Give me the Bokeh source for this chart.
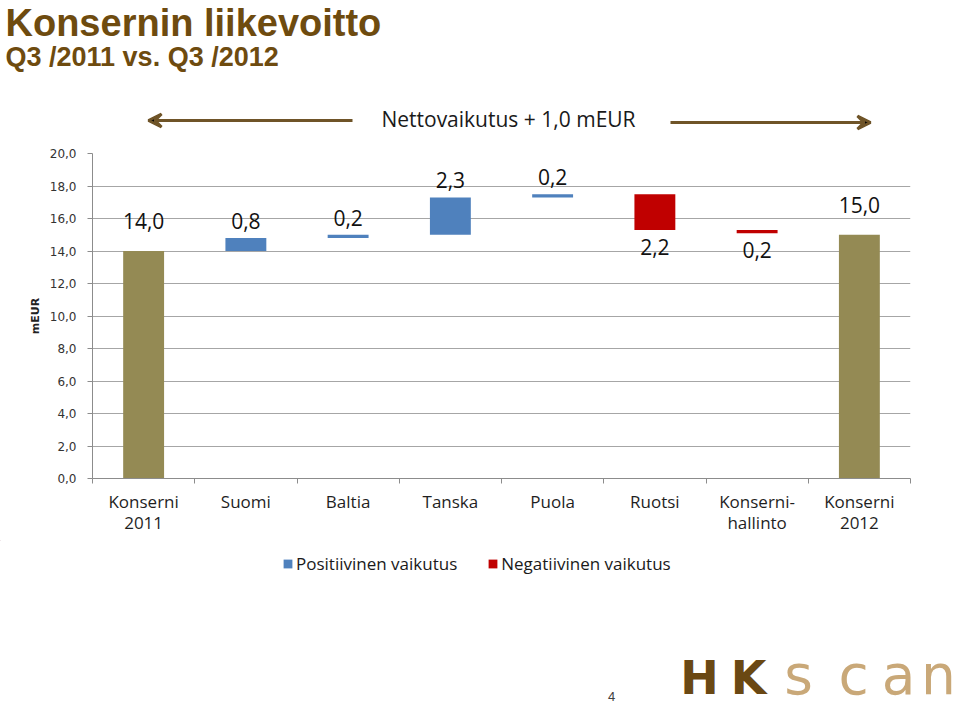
from bokeh.plotting import figure
from bokeh.layouts import column
from bokeh.models import (ColumnDataSource, FixedTicker, Range1d, Label, Arrow, VeeHead,
                          Legend, LegendItem, Plot)
from bokeh.core.properties import value
from bokeh.embed import file_html
from bokeh.resources import INLINE

# ---------------- data ----------------
categories = ["Konserni\n2011", "Suomi", "Baltia", "Tanska", "Puola", "Ruotsi",
              "Konserni-\nhallinto", "Konserni\n2012"]
start_value = 14.0
deltas = [0.8, 0.2, 2.3, 0.2, -2.2, -0.2]
end_value = 15.0
y_ticks = [0.0, 2.0, 4.0, 6.0, 8.0, 10.0, 12.0, 14.0, 16.0, 18.0, 20.0]
title_text = "Konsernin liikevoitto"
subtitle_text = "Q3 /2011 vs. Q3 /2012"
net_text = "Nettovaikutus + 1,0 mEUR"
legend_labels = ["Positiivinen vaikutus", "Negatiivinen vaikutus"]
y_axis_label = "mEUR"
page_number = "4"
logo_dark = "HK"
logo_light = "scan"

# ---------------- styles ----------------
C_TOTAL = "#948A54"
C_POS = "#4F81BD"
C_NEG = "#C00000"
C_BROWN = "#6E4B0F"
C_ARROW = "#6F5428"
C_LOGO_DARK = "#6A4813"
C_LOGO_LIGHT = "#C9A878"
W = 960
H_HEAD, H_MAIN = 140, 400
H_FOOT = 717 - H_HEAD - H_MAIN
HAS_FRAME_ALIGN = "frame_align" in Plot.properties()


def fmt(v):
    return f"{abs(v):.1f}".replace(".", ",")


def deco_figure(height, top):
    # a plain canvas whose data units are page pixels (y grows downwards)
    f = figure(width=W, height=height, x_range=Range1d(0, W), y_range=Range1d(top + height, top),
               x_axis_type=None, y_axis_type=None, output_backend="svg", toolbar_location=None,
               min_border=0)
    f.outline_line_color = None
    f.xgrid.grid_line_color = None
    f.ygrid.grid_line_color = None
    if HAS_FRAME_ALIGN:
        f.frame_align = False
    return f


# ---------------- waterfall geometry ----------------
xs = [i + 0.5 for i in range(len(categories))]
bottoms, tops, kinds, vals = [0.0], [start_value], ["total"], [start_value]
run = start_value
for d in deltas:
    new = run + d
    bottoms.append(min(run, new)); tops.append(max(run, new))
    kinds.append("pos" if d >= 0 else "neg"); vals.append(d)
    run = new
bottoms.append(0.0); tops.append(end_value); kinds.append("total"); vals.append(end_value)


def subset(kind):
    idx = [i for i, k in enumerate(kinds) if k == kind]
    return ColumnDataSource(dict(x=[xs[i] for i in idx], bottom=[bottoms[i] for i in idx],
                                 top=[tops[i] for i in idx]))


# ---------------- header ----------------
head = deco_figure(H_HEAD, 0)
head.add_layout(Label(x=5, y=22, text=title_text, text_font="Liberation Sans",
                      text_font_style="bold", text_font_size="38px", text_color=C_BROWN,
                      text_baseline="middle"))
head.add_layout(Label(x=5, y=56, text=subtitle_text, text_font="Liberation Sans",
                      text_font_style="bold", text_font_size="27px", text_color=C_BROWN,
                      text_baseline="middle"))
head.add_layout(Label(x=508, y=118, text=net_text, text_font="Open Sans",
                      text_font_size="21px", text_color="#1A1A1A", text_align="center",
                      text_baseline="middle"))
head.add_layout(Arrow(x_start=352, y_start=120, x_end=148, y_end=120,
                      line_color=C_ARROW, line_width=3,
                      end=VeeHead(size=13, line_color=C_ARROW, line_width=3)))
head.add_layout(Arrow(x_start=670, y_start=122, x_end=870, y_end=122,
                      line_color=C_ARROW, line_width=3,
                      end=VeeHead(size=13, line_color=C_ARROW, line_width=3)))

# ---------------- main chart ----------------
p = figure(width=W, height=H_MAIN, x_range=Range1d(0, len(categories)), y_range=Range1d(0, 20),
           output_backend="svg", toolbar_location=None,
           min_border_left=92, min_border_right=50, min_border_top=13, min_border_bottom=62)
p.outline_line_color = None
p.xgrid.grid_line_color = None
p.ygrid.grid_line_color = "#A6A6A6"
if HAS_FRAME_ALIGN:
    p.frame_align = False

p.yaxis.ticker = FixedTicker(ticks=y_ticks)
p.yaxis.major_label_overrides = {t: fmt(t) for t in y_ticks}
p.yaxis.axis_line_color = "#8C8C8C"
p.yaxis.major_tick_line_color = "#8C8C8C"
p.yaxis.major_tick_out = 5
p.yaxis.major_tick_in = 0
p.yaxis.minor_tick_line_color = None
p.yaxis.major_label_text_font = "DejaVu Sans"
p.yaxis.major_label_text_font_size = "12px"
p.yaxis.major_label_text_color = "#333333"
p.yaxis.major_label_standoff = 11
p.yaxis.axis_label = y_axis_label
p.yaxis.axis_label_text_font = "DejaVu Sans"
p.yaxis.axis_label_text_font_style = "bold"
p.yaxis.axis_label_text_font_size = "11px"
p.yaxis.axis_label_text_color = "#222222"
p.yaxis.axis_label_standoff = 5

p.xaxis.ticker = FixedTicker(ticks=xs, minor_ticks=list(range(len(categories) + 1)))
p.xaxis.major_label_overrides = {x: c for x, c in zip(xs, categories)}
p.xaxis.axis_line_color = "#8C8C8C"
p.xaxis.major_tick_line_color = None
p.xaxis.major_tick_out = 0
p.xaxis.major_tick_in = 0
p.xaxis.minor_tick_line_color = "#8C8C8C"
p.xaxis.minor_tick_out = 5
p.xaxis.minor_tick_in = 0
p.xaxis.major_label_standoff = 6
p.xaxis.major_label_text_font = "Open Sans"
p.xaxis.major_label_text_font_size = "17px"
p.xaxis.major_label_text_line_height = 0.95
p.xaxis.major_label_text_color = "#1F1F1F"

p.vbar(x="x", bottom="bottom", top="top", width=0.4, source=subset("total"),
       fill_color=C_TOTAL, line_color=None)
p.vbar(x="x", bottom="bottom", top="top", width=0.4, source=subset("pos"),
       fill_color=C_POS, line_color=None)
p.vbar(x="x", bottom="bottom", top="top", width=0.4, source=subset("neg"),
       fill_color=C_NEG, line_color=None)

up_x, up_y, up_t, dn_x, dn_y, dn_t = [], [], [], [], [], []
for x, b, t, k, v in zip(xs, bottoms, tops, kinds, vals):
    if k == "neg":
        dn_x.append(x); dn_y.append(b - 0.55); dn_t.append(fmt(v))
    else:
        gap = 1.35 if k == "total" else 0.55
        up_x.append(x); up_y.append(t + gap); up_t.append(fmt(v))
p.text(x=up_x, y=up_y, text=up_t, text_align="center", text_baseline="bottom",
       text_font=value("Open Sans"), text_font_size="21px", text_color="#111111")
p.text(x=dn_x, y=dn_y, text=dn_t, text_align="center", text_baseline="top",
       text_font=value("Open Sans"), text_font_size="21px", text_color="#111111")

# ---------------- footer: legend, page number, logo ----------------
foot = deco_figure(H_FOOT, H_HEAD + H_MAIN)
# legend swatches: renderers placed far outside the visible range, used only by the legend
lg_pos = foot.vbar(x=[-5000], top=[-5000], bottom=[-5010], width=1, fill_color=C_POS, line_color=None)
lg_neg = foot.vbar(x=[-5000], top=[-5000], bottom=[-5010], width=1, fill_color=C_NEG, line_color=None)
legend = Legend(items=[LegendItem(label=legend_labels[0], renderers=[lg_pos]),
                       LegendItem(label=legend_labels[1], renderers=[lg_neg])],
                orientation="horizontal", location=(282, 717 - 575),
                border_line_color=None, background_fill_alpha=0,
                glyph_width=11, glyph_height=11, label_standoff=3, spacing=30,
                padding=0, margin=0, label_height=20, label_text_font="Open Sans",
                label_text_font_size="17px", label_text_color="#1A1A1A")
foot.add_layout(legend, "center")

foot.add_layout(Label(x=611, y=696, text=page_number, text_font="Liberation Sans",
                      text_font_size="13px", text_color="#404040", text_align="center",
                      text_baseline="middle"))
for ch, cx in zip(logo_dark, [699, 748]):
    foot.add_layout(Label(x=cx, y=677, text=ch, text_font="DejaVu Sans",
                          text_font_style="bold", text_font_size="46px", text_color=C_LOGO_DARK,
                          text_align="center", text_baseline="middle"))
for ch, cx in zip(logo_light, [798, 853, 898, 938]):
    foot.add_layout(Label(x=cx, y=674, text=ch, text_font="DejaVu Sans",
                          text_font_size="55px", text_color=C_LOGO_LIGHT,
                          text_align="center", text_baseline="middle"))

layout = column(head, p, foot, spacing=0)
open("out.html", "w").write(file_html(layout, INLINE))
